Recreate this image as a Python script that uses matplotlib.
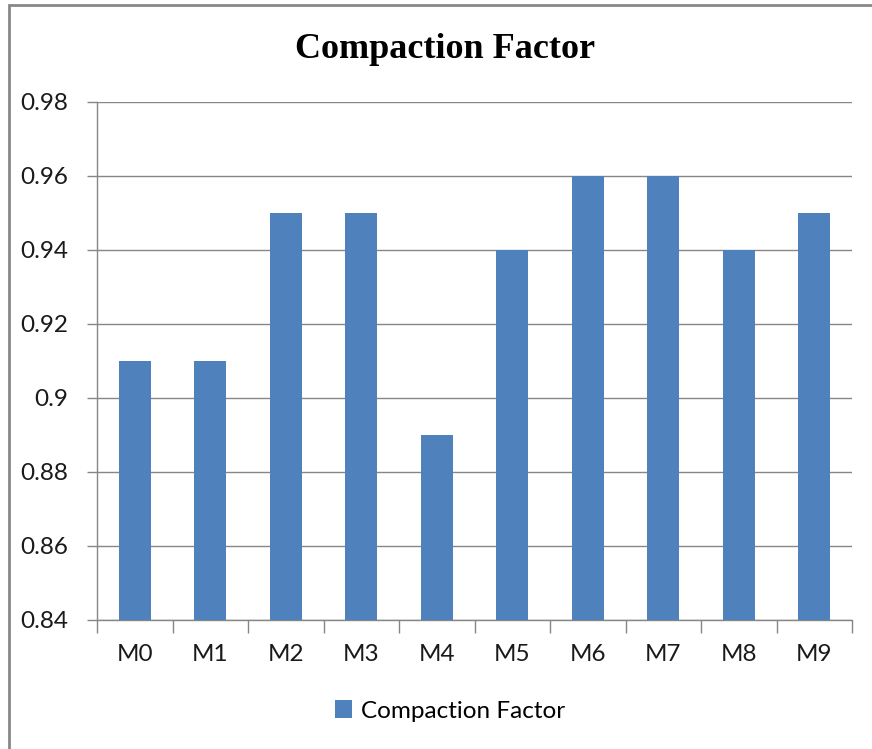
import matplotlib.pyplot as plt
from matplotlib.patches import Rectangle
import numpy as np

categories = ['M0', 'M1', 'M2', 'M3', 'M4', 'M5', 'M6', 'M7', 'M8', 'M9']
values = [0.91, 0.91, 0.95, 0.95, 0.89, 0.94, 0.96, 0.96, 0.94, 0.95]
yticks = [0.84, 0.86, 0.88, 0.90, 0.92, 0.94, 0.96, 0.98]
ytick_labels = ['0.84', '0.86', '0.88', '0.9', '0.92', '0.94', '0.96', '0.98']

BAR_COLOR = '#4F81BD'
GRID_COLOR = '#868686'

fig = plt.figure(figsize=(8.72, 7.49), dpi=100)
ax = fig.add_axes([97 / 872, 1 - 620 / 749, (852 - 97) / 872, (620 - 102) / 749])

x = np.arange(len(categories))
ax.bar(x, values, width=0.42, color=BAR_COLOR, label='Compaction Factor', zorder=3)

ax.set_xlim(-0.5, len(categories) - 0.5)
ax.set_ylim(0.84, 0.98)
ax.set_yticks(yticks)
ax.set_yticklabels(ytick_labels)
ax.set_xticks(x)
ax.set_xticklabels(categories)

# category boundary ticks on the x axis (Excel style)
ax.set_xticks(np.arange(len(categories) + 1) - 0.5, minor=True)
ax.tick_params(axis='x', which='major', length=0, pad=17)
ax.tick_params(axis='x', which='minor', length=9, color=GRID_COLOR, width=1)
ax.tick_params(axis='y', length=7, color=GRID_COLOR, width=1, pad=14)
for lbl in ax.get_xticklabels() + ax.get_yticklabels():
    lbl.set_fontfamily('Lato')
    lbl.set_fontsize(17.5)
    lbl.set_color('#1a1a1a')

ax.grid(axis='y', color=GRID_COLOR, linewidth=1, zorder=0)
for s in ['top', 'right']:
    ax.spines[s].set_visible(False)
for s in ['left', 'bottom']:
    ax.spines[s].set_color(GRID_COLOR)
    ax.spines[s].set_linewidth(1)

fig.text(445 / 872, 1 - 50 / 749, 'Compaction Factor', ha='center', va='center',
         fontsize=26, fontweight='bold', family='Liberation Serif')

fig.legend(loc='center', bbox_to_anchor=(450 / 872, 1 - 711 / 749), frameon=False,
           prop={'family': 'Lato', 'size': 17.5}, handlelength=0.7, handleheight=0.7,
           handletextpad=0.4)

# outer chart border
fig.patches.append(Rectangle((9 / 872, -0.1), 1.2, 1 - 5 / 749 + 0.1, transform=fig.transFigure,
                             fill=False, edgecolor='#888888', linewidth=2))

fig.savefig('out.png', dpi=100)
